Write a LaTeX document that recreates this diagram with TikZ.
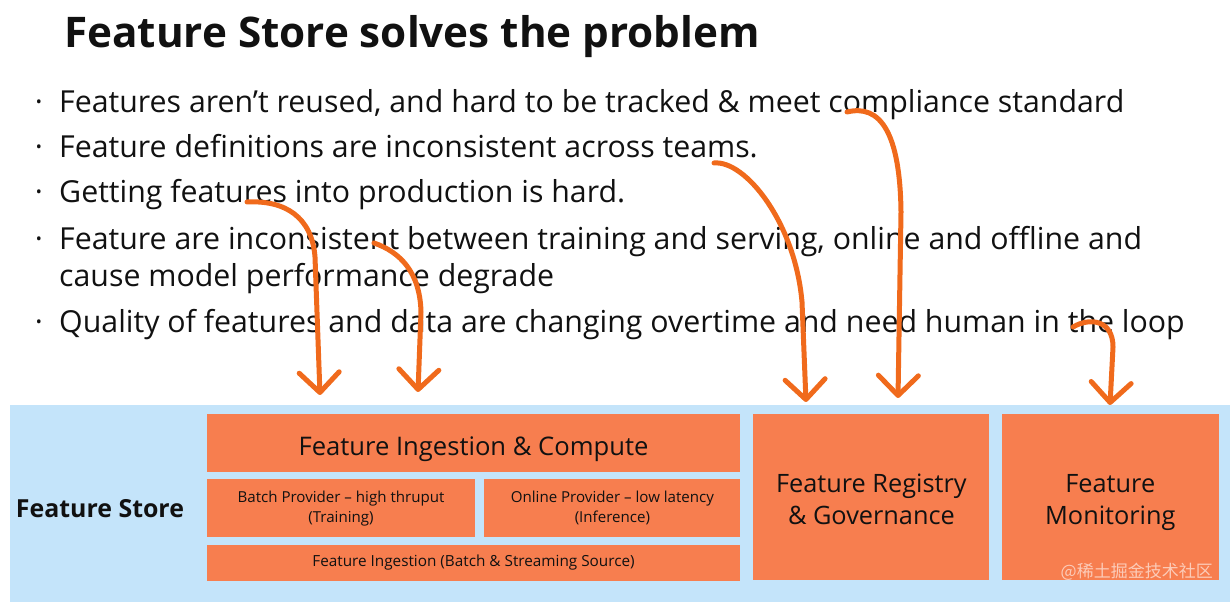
\documentclass[tikz,border=0pt]{standalone}
\usepackage{fontspec}
\setmainfont{Open Sans}
\newfontfamily\cjkfont{Noto Sans CJK SC}
\usetikzlibrary{positioning,arrows.meta}
\definecolor{StoreBlue}{HTML}{C4E4FA}
\definecolor{BoxOrange}{HTML}{F77E4F}
\definecolor{PenOrange}{HTML}{F06A1C}
\definecolor{InkBlack}{HTML}{111111}

\begin{document}
\begin{tikzpicture}[x=1pt, y=1pt, every node/.style={inner sep=0pt, text=InkBlack},
    point/.style={anchor=base west, font=\fontsize{30.3}{36}\selectfont},
    dot/.style={anchor=base, font=\fontsize{30.3}{36}\selectfont},
    block/.style={fill=BoxOrange, align=center},
    tall/.style={block, minimum height=166pt, text height=20pt, text depth=28pt, font=\fontsize{25.3}{32}\selectfont},
    pen/.style={PenOrange, line width=5pt, line cap=round, line join=round, -{Straight Barb[length=20pt,width=40pt,round]}}]
  \useasboundingbox (0,0) rectangle (1230,602);

  \node[anchor=base west, font=\bfseries\fontsize{42.2}{50}\selectfont] (title) at (64,554) {Feature Store solves the problem};

  \node[dot] (b1) at (39,489) {·};
  \node[point] (l1) at (59,489) {Features aren’t reused, and hard to be tracked \& meet compliance standard};
  \node[dot] (b2) at (39,444) {·};
  \node[point] (l2) at (59,444) {Feature definitions are inconsistent across teams.};
  \node[dot] (b3) at (39,399) {·};
  \node[point] (l3) at (59,399) {Getting features into production is hard.};
  \node[dot] (b4) at (39,352) {·};
  \node[point] (l4) at (59,352) {Feature are inconsistent between training and serving, online and offline and};
  \node[point] (l4b) at (59,315) {cause model performance degrade};
  \node[dot] (b5) at (39,269) {·};
  \node[point] (l5) at (59,269) {Quality of features and data are changing overtime and need human in the loop};

  \node[fill=StoreBlue, anchor=south west, minimum width=1220pt, minimum height=197pt] (store) at (10,0) {};
  \node[font=\bfseries\fontsize{24.9}{28}\selectfont] (storelbl) at (100,93) {Feature Store};

  \node[block, minimum width=533pt, minimum height=58pt, text height=26pt, text depth=0pt, font=\fontsize{25.6}{30}\selectfont] (compute) at (473.5,159) {Feature Ingestion \& Compute};
  \node[block, below=7pt of compute.south west, anchor=north west, minimum width=268pt, minimum height=58pt, font=\fontsize{15.1}{20}\selectfont] (batch) {Batch Provider -- high thruput\\(Training)};
  \node[block, right=9pt of batch, minimum width=256pt, minimum height=58pt, font=\fontsize{15.1}{20}\selectfont] (online) {Online Provider -- low latency\\(Inference)};
  \node[block, below=7pt of batch.south west, anchor=north west, minimum width=533pt, minimum height=36pt, font=\fontsize{15.3}{20}\selectfont] (ingest) {Feature Ingestion (Batch \& Streaming Source)};
  \node[tall, right=13pt of compute.north east, anchor=north west, minimum width=236pt] (registry) {\begin{tabular}[t]{@{}c@{}}Feature Registry\\\& Governance\end{tabular}};
  \node[tall, right=12pt of registry, minimum width=217pt] (monitor) {\begin{tabular}[t]{@{}c@{}}Feature\\Monitoring\end{tabular}};

  \node[anchor=east, font=\cjkfont\fontsize{17}{20}\selectfont, text=white, opacity=.6] (mark) at (1213,30) {@稀土掘金技术社区};

  \coordinate (s1) at (247,400);
  \coordinate (e1) at (320,207);
  \coordinate (s2) at (374,359);
  \coordinate (e2) at (418,210);
  \coordinate (s3) at (714,439);
  \coordinate (e3) at (806,200);
  \coordinate (s4) at (847,490);
  \coordinate (e4) at (898,204);
  \coordinate (s5) at (1073,275);
  \coordinate (e5) at (1110,197);
  \draw[pen] (s1) .. controls (285,402) and (312,385) .. (315,345) -- (e1);
  \draw[pen] (s2) .. controls (400,350) and (420,330) .. (421,290) -- (e2);
  \draw[pen] (s3) .. controls (745,442) and (795,380) .. (802,300) -- (e3);
  \draw[pen] (s4) .. controls (880,498) and (900,470) .. (901,390) -- (e4);
  \draw[pen] (s5) .. controls (1090,285) and (1113,282) .. (1113,255) -- (e5);
\end{tikzpicture}
\end{document}
